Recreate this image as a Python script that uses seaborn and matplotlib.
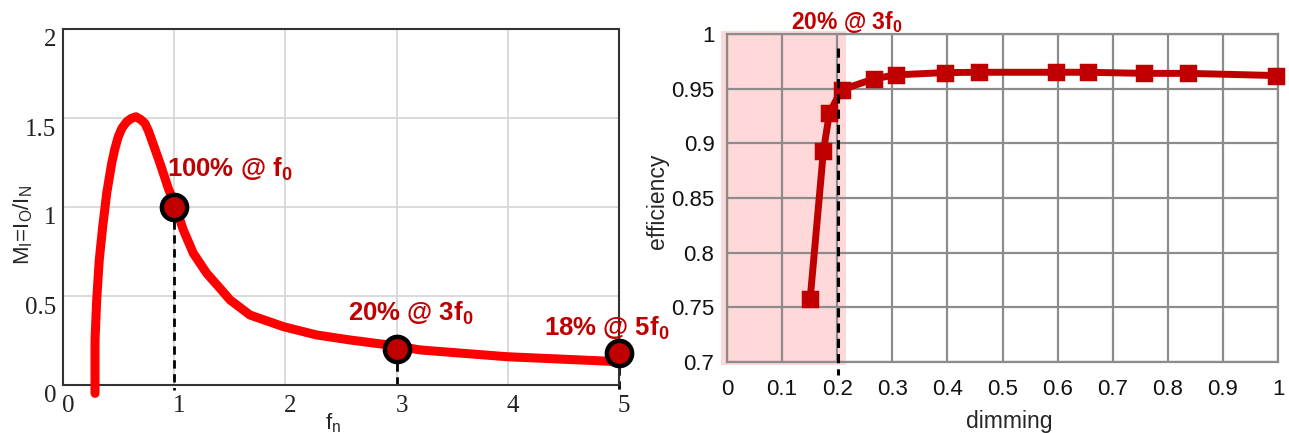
import numpy as np
import pandas as pd
import matplotlib
matplotlib.use("Agg")
import matplotlib.pyplot as plt
import matplotlib.transforms as mtransforms
import seaborn as sns

# ---- gain curve M_I versus normalised frequency f_n ----
fn_curve = [0.288, 0.288, 0.303, 0.326, 0.357, 0.393, 0.438, 0.466, 0.497, 0.531,
            0.573, 0.612, 0.656, 0.697, 0.737, 0.769, 0.798, 0.872, 0.947, 1.007,
            1.082, 1.172, 1.292, 1.412, 1.502, 1.682, 1.981, 2.281, 2.581, 3.001,
            3.21, 3.99, 5.0]
mi_curve = [-0.047, 0.253, 0.478, 0.702, 0.889, 1.077, 1.246, 1.326, 1.395, 1.444,
            1.479, 1.497, 1.507, 1.492, 1.470, 1.427, 1.376, 1.246, 1.105, 1.011,
            0.871, 0.740, 0.628, 0.543, 0.478, 0.393, 0.328, 0.281, 0.253, 0.219,
            0.197, 0.159, 0.131]

# operating points and their annotations
op_fn = [1, 3, 5]
op_pct = [100, 20, 18]
op_text = ["100% @ f$_\\mathbf{0}$", "20% @ 3f$_\\mathbf{0}$", "18% @ 5f$_\\mathbf{0}$"]

# ---- efficiency versus dimming ----
dimming = [0.151, 0.175, 0.186, 0.208, 0.267, 0.306, 0.396, 0.458,
           0.597, 0.656, 0.757, 0.837, 0.996]
efficiency = [0.758, 0.893, 0.928, 0.949, 0.959, 0.9626, 0.9647, 0.965,
              0.965, 0.965, 0.964, 0.964, 0.962]

left_xticks = [0, 1, 2, 3, 4, 5]
left_yticks = [0, 0.5, 1, 1.5, 2]
left_ytick_labels = ["0", "0.5", "1", "1.5", "2"]
right_xticks = [0, 0.1, 0.2, 0.3, 0.4, 0.5, 0.6, 0.7, 0.8, 0.9, 1]
right_xtick_labels = ["0", "0.1", "0.2", "0.3", "0.4", "0.5", "0.6", "0.7", "0.8", "0.9", "1"]
right_yticks = [0.7, 0.75, 0.8, 0.85, 0.9, 0.95, 1]
right_ytick_labels = ["0.7", "0.75", "0.8", "0.85", "0.9", "0.95", "1"]

DARK_RED = "#C00000"

sns.set_style("white")
plt.rcParams["font.family"] = ["Liberation Sans", "DejaVu Sans"]
plt.rcParams["mathtext.fontset"] = "custom"
plt.rcParams["mathtext.rm"] = "Liberation Sans"
plt.rcParams["mathtext.it"] = "Liberation Sans"
plt.rcParams["mathtext.bf"] = "Liberation Sans:bold"

W, H = 1289, 433
fig = plt.figure(figsize=(W / 100, H / 100), dpi=100)

# ================= left panel =================
axL = fig.add_axes([63 / W, (H - 385) / H, (619 - 63) / W, (385 - 29) / H])
curve_df = pd.DataFrame({"fn": fn_curve, "mi": mi_curve})
sns.lineplot(data=curve_df, x="fn", y="mi", ax=axL, color="#FF0000", lw=6.5,
             sort=False, estimator=None, zorder=3, clip_on=False,
             solid_capstyle="round", solid_joinstyle="round")

op_mi = [p / 100 for p in op_pct]
for x, y in zip(op_fn, op_mi):
    axL.plot([x, x], [y, -0.03], ls=(0, (3, 2)), color="black", lw=2,
             zorder=2, clip_on=False)
op_df = pd.DataFrame({"fn": op_fn, "mi": op_mi})
sns.scatterplot(data=op_df, x="fn", y="mi", ax=axL, s=330, color=DARK_RED,
                edgecolor="black", linewidth=3.2, zorder=5, clip_on=False)

label_pos = [(1.50, 1.21), (3.13, 0.40), (4.89, 0.32)]
for (tx, ty), txt in zip(label_pos, op_text):
    axL.text(tx, ty, txt, color=DARK_RED, fontsize=18.5, fontweight="bold",
             ha="center", va="center", zorder=6)

axL.set_xlim(0, 5)
axL.set_ylim(0, 2)
axL.set_xticks(left_xticks)
axL.set_yticks(left_yticks)
axL.set_xticklabels([str(v) for v in left_xticks])
axL.set_yticklabels(left_ytick_labels)
axL.tick_params(axis="both", length=0, labelsize=18,
                labelfontfamily="Liberation Serif", labelcolor="#222222")
axL.tick_params(axis="x", pad=7)
axL.tick_params(axis="y", pad=5)
shift_r = mtransforms.ScaledTranslation(5 / 100, 0, fig.dpi_scale_trans)
shift_d = mtransforms.ScaledTranslation(0, -9 / 100, fig.dpi_scale_trans)
for lab in axL.get_xticklabels():
    lab.set_transform(lab.get_transform() + shift_r)
for lab in axL.get_yticklabels():
    lab.set_transform(lab.get_transform() + shift_d)
axL.grid(True, color="#d4d4d4", lw=1.2)
axL.set_axisbelow(True)
for sp in axL.spines.values():
    sp.set_color("#333333")
    sp.set_linewidth(1.5)
axL.set_xlabel("f$_\\mathrm{n}$", fontsize=16, labelpad=0)
axL.xaxis.set_label_coords(0.485, -0.075)
axL.set_ylabel("M$_\\mathrm{I}$=I$_\\mathrm{O}$/I$_\\mathrm{N}$", fontsize=16)
axL.yaxis.set_label_coords(-0.05, 0.45)

# ================= right panel =================
axR = fig.add_axes([727 / W, (H - 362) / H, 551 / W, 328 / H])
axR.axvspan(-0.011, 0.216, ymin=-0.01, ymax=1.01, color="#FFD9DA", lw=0,
            zorder=0, clip_on=False)
eff_df = pd.DataFrame({"dimming": dimming, "efficiency": efficiency})
sns.lineplot(data=eff_df, x="dimming", y="efficiency", ax=axR, color=DARK_RED,
             lw=5, marker="s", markersize=9.5, markeredgewidth=2.5,
             markeredgecolor=DARK_RED, zorder=4, clip_on=False,
             estimator=None, sort=False, solid_joinstyle="round")
for ln in axR.lines:
    ln.set_markeredgecolor(DARK_RED)
axR.plot([0.2015, 0.2015], [0.987, 0.688], ls=(0, (3, 2)), color="black",
         lw=2.2, zorder=5, clip_on=False)
axR.text(0.218, 1.011, "20% @ 3f$_\\mathbf{0}$", color=DARK_RED, fontsize=16.5,
         fontweight="bold", ha="center", va="center")

axR.set_xlim(0, 1)
axR.set_ylim(0.7, 1)
axR.set_xticks(right_xticks)
axR.set_xticklabels(right_xtick_labels)
axR.set_yticks(right_yticks)
axR.set_yticklabels(right_ytick_labels)
axR.tick_params(axis="both", length=0, labelsize=16, labelcolor="#111111")
axR.tick_params(axis="x", pad=12)
axR.tick_params(axis="y", pad=9)
axR.grid(True, color="#8c8c8c", lw=1.6)
axR.set_axisbelow(True)
for sp in axR.spines.values():
    sp.set_color("#8c8c8c")
    sp.set_linewidth(1.6)
axR.set_xlabel("dimming", fontsize=16.5, labelpad=0)
axR.xaxis.set_label_coords(0.512, -0.145)
axR.set_ylabel("efficiency", fontsize=16.5)
axR.yaxis.set_label_coords(-0.105, 0.49)

fig.savefig("out.png", dpi=100)
